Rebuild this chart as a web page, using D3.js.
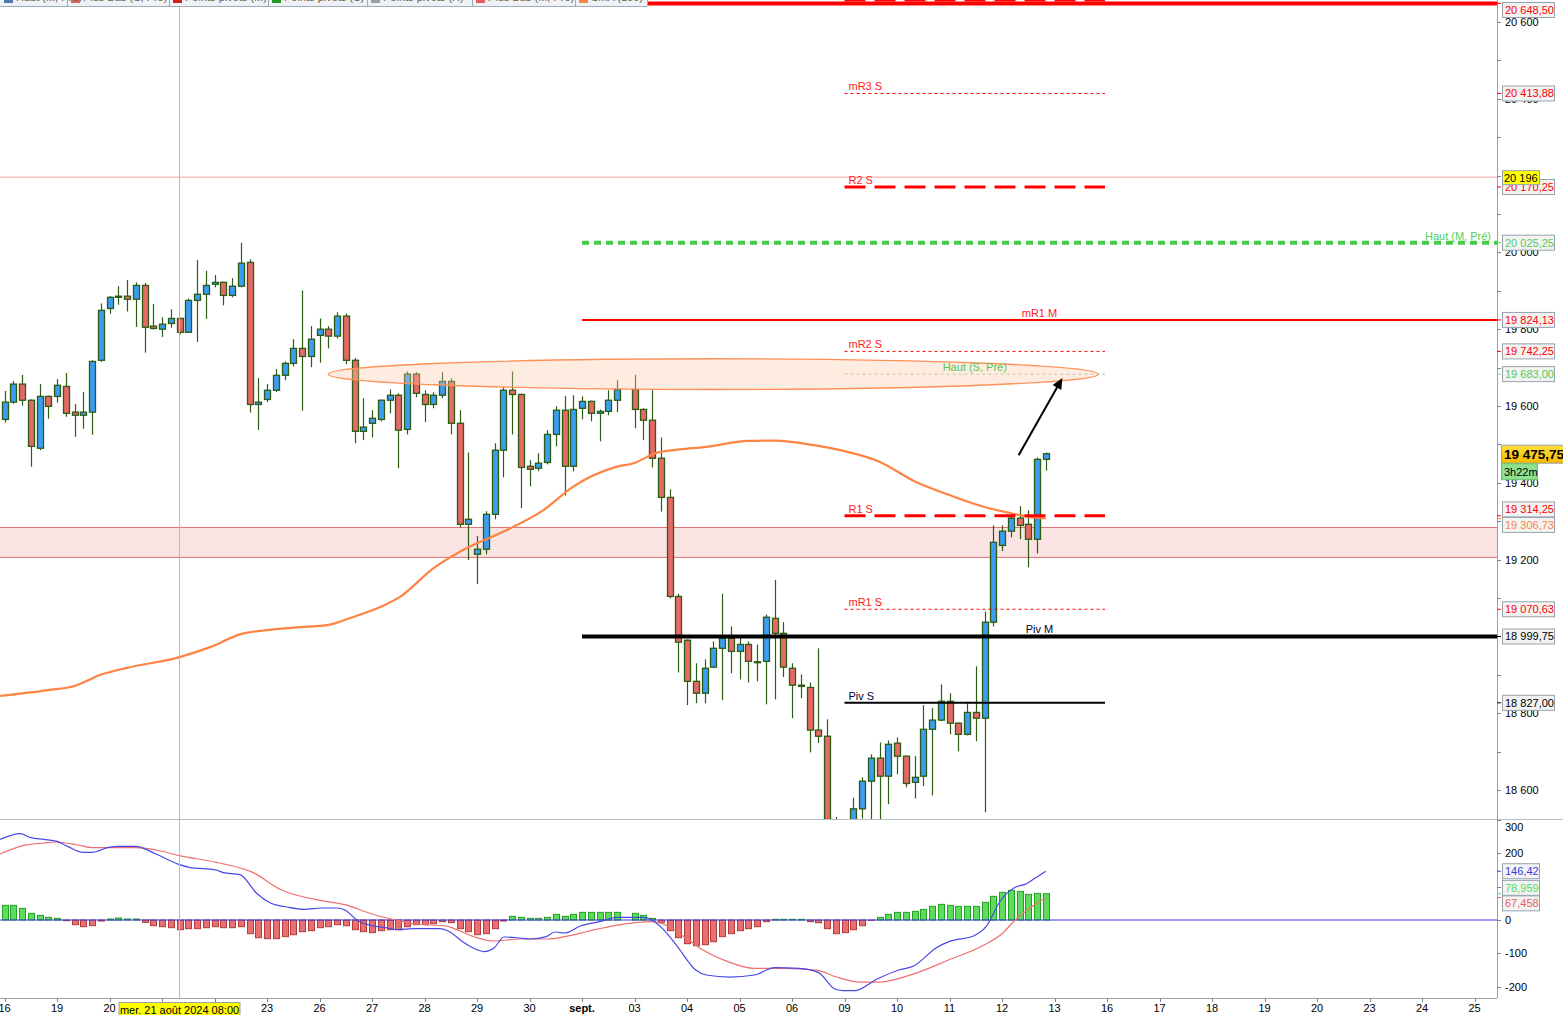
<!DOCTYPE html>
<html>
<head>
<meta charset="utf-8">
<script src="https://cdn.jsdelivr.net/npm/d3@7"></script>
<style>
  body { margin: 0; background: #fff; }
  svg { display: block; font-family: "Liberation Sans", Arial, sans-serif; }
</style>
</head>
<body>
<div id="chart"></div>
<script>
// ---------- data (4h candles, slot index from 16 Aug) ----------
let opens = [19565,19610,19657,19615,19490,19625,19625,19651,19584,19576,19584,19719,19854,19883,19886,19878,19914,19808,19800,19815,
  19828,19792,19875,19891,19917,19922,19888,19912,19974,19604,19617,19641,19680,19711,19750,19729,19784,19800,19782,19834,
  19719,19534,19555,19565,19615,19628,19539,19683,19630,19604,19628,19664,19555,19292,19214,19227,19318,19485,19641,19630,
  19443,19438,19453,19526,19589,19443,19594,19612,19581,19586,19615,null,19643,19591,19563,19464,19362,19104,18990,18883,
  18852,18920,18969,18995,18961,18979,18932,18935,19047,19008,18917,18873,18867,18756,18740,18470,18455,18490,18551,18623,
  18683,18636,18722,18688,18620,18636,18758,18782,18831,18774,18745,18802,18787,19037,19237,19274,19308,19292,19253,19461]
let highs = [19639,19665,19681,19617,19657,19627,19670,19686,19605,19636,19719,19867,19886,19912,19928,19922,19920,19866,19831,19852,
  19830,19880,19980,19952,19941,19924,19933,20025,19982,19673,19657,19696,19716,19774,19901,19808,19828,19808,19844,19841,
  19725,19620,19589,19617,19643,19633,19690,19688,19641,19636,19688,19672,19589,19479,19261,19326,19503,19649,19690,19632,
  19459,19477,19537,19599,19626,19628,19625,19614,19591,19641,19667,null,19681,19594,19641,19518,19383,19111,18992,18930,
  18940,18987,19111,19026,19003,18987,18979,19057,19147,19037,18930,18901,18880,18969,18784,18530,18510,18580,18633,18693,
  18724,18729,18737,18690,18688,18821,18813,18875,18852,18776,18826,18922,19065,19289,19289,19321,19339,19328,19466,19479]
let lows = [19557,19606,19601,19442,19485,19567,19609,19572,19520,19541,19525,19715,19840,19864,19846,19806,19739,19799,19780,19804,
  19787,19790,19767,19827,19909,19862,19883,19909,19583,19538,19610,19636,19667,19703,19588,19701,19713,19750,19776,19709,
  19503,19511,19518,19560,19581,19438,19526,19623,19558,19594,19620,19526,19284,19199,19136,19214,19305,19414,19526,19334,
  19391,19430,19448,19495,19367,19430,19565,19560,19508,19576,19584,null,19542,19511,19440,19325,19099,18906,18821,18826,
  18826,18917,18834,18904,18888,18880,18883,18823,18836,18894,18787,18839,18698,18722,18440,18400,18420,18470,18526,18520,
  18520,18563,18641,18607,18578,18610,18586,18779,18745,18701,18742,18727,18542,19026,19222,19258,19253,19180,19216,19432]
let closes = [19610,19657,19615,19495,19625,19599,19654,19581,19576,19584,19716,19849,19883,19886,19878,19914,19805,19802,19813,19828,
  19792,19875,19891,19914,19922,19888,19912,19972,19604,19610,19641,19680,19711,19750,19729,19774,19800,19782,19834,19719,
  19534,19545,19568,19615,19628,19537,19683,19633,19604,19628,19664,19555,19292,19305,19227,19318,19485,19641,19630,19440,
  19435,19451,19526,19589,19443,19591,19612,19581,19586,19615,19643,null,19591,19563,19464,19362,19104,18985,18883,18852,
  18917,18969,18995,18961,18979,18935,18934,19050,19008,18920,18873,18870,18756,18740,18470,18455,18490,18551,18623,18683,
  18636,18719,18688,18617,18633,18758,18782,18831,18774,18745,18802,18787,19037,19245,19274,19308,19289,19253,19461,19475.75]

// SMA (100) read at some slots: [slot, value]
let smaPoints = [[-0.5,18845],[5,18860],[8,18871],[11,18900],[14,18918],[20,18946],[23.5,18972],[27,19006],[30.3,19017],[33.8,19024],
  [37,19030],[39.5,19048],[43,19077],[45.2,19103],[49,19177],[52.4,19225],[57.4,19277],[61.6,19329],[65,19390],[70,19442],
  [71.9,19451],[74.5,19478],[77.2,19487],[80,19493],[85,19509],[88,19510],[92.5,19498],[95.5,19485],[100,19455],[104,19404],
  [108,19368],[112,19337],[114.8,19322],[117.5,19310],[119,19307]]

// MACD histogram, one value per slot
let macdHist = [44,44,35,20,14,8,5,-2,-14,-20,-17,-3,3,6,3,3,-7,-17,-20,-23,
  -29,-26,-26,-23,-20,-23,-23,-20,-41,-53,-56,-56,-50,-44,-35,-32,-23,-20,-14,-17,
  -29,-35,-38,-32,-29,-29,-20,-14,-14,-11,-5,-8,-26,-35,-44,-41,-26,-3,11,8,
  5,5,8,17,11,17,23,23,23,23,23,null,20,14,5,-7,-32,-53,-71,-77,
  -74,-65,-50,-41,-32,-26,-20,-5,2,2,2,2,-5,-8,-26,-41,-38,-29,-17,-1,
  8,17,23,23,26,32,41,47,44,41,41,41,53,71,83,89,86,77,80,78.959]

// MACD line and signal line: [slot, value]
let macdPoints = [[-0.5,242],[1.8,259],[3,247],[4.5,242],[6,236],[7.2,221],[9,203],[10,203],[11.9,218],[13,221],[15,221],[17.3,198],
  [20,166],[21.1,158],[24.2,150],[25,142],[26.9,136],[28.9,78],[30.4,51],[32.3,39],[34.3,32],[36.2,36],[38.1,36],[38.9,30],
  [40.4,-2],[42,-17],[43.5,-23],[45.1,-29],[46.6,-26],[49.7,-26],[50.9,-36],[52.4,-66],[54,-89],[54.9,-95],[55.9,-85],[57.1,-51],
  [58.9,-54],[60.1,-57],[61.9,-50],[62.9,-36],[64,-39],[65.8,-18],[68,-5],[69.9,8],[72.9,8],[74.3,-5],[75.4,-31],[77,-83],
  [79,-150],[80.2,-165],[82.9,-171],[85.7,-165],[88,-143],[90.8,-145],[93,-157],[94.9,-207],[95.9,-212],[97.1,-212],[99.8,-176],
  [102.2,-150],[103.9,-138],[106.5,-83],[108,-64],[110.8,-47],[112.2,-19],[113.8,57],[115.5,98],[116.8,109],[117.8,126],[119,146.42]]
let signalPoints = [[-0.5,198],[1.8,221],[4.5,231],[5.9,234],[8.4,225],[10,217],[15,217],[17.3,210],[20,193],[24.2,173],[26.9,156],
  [28.1,146],[31.6,91],[36.2,58],[38.9,46],[42,18],[44.7,0],[47,-12],[50.5,-18],[51.6,-28],[54,-53],[55.9,-63],[58.9,-57],
  [62.1,-57],[64,-50],[66.8,-33],[69.9,-16],[73.9,-5],[75.1,-10],[77.5,-47],[79.4,-83],[82.6,-124],[85.7,-145],[88.9,-145],
  [92.8,-150],[95.1,-171],[97.8,-186],[100,-186],[104.1,-160],[107.7,-122],[112,-74],[114,-41],[115.5,0],[119,67.458]]

// pivot levels
let levelNames = ["R3 S", "R1 M", "mR3 S", "R2 S", "Haut (M, Pré)", "mR1 M", "mR2 S", "Haut (S, Pré)", "R1 S", "mR1 S", "Piv M", "Piv S"]
let levelValues = [20657.5, 20648.5, 20413.88, 20170.25, 20025.25, 19824.13, 19742.25, 19683.00, 19314.25, 19070.63, 18999.75, 18827.00]

// support zone and highlighted area round the weekly high
let zoneBounds = [19207, 19285]
let ellipseSlots = [37, 125]
let ellipsePrices = [19643, 19723]
let arrowSlots = [115.9, 120.9]
let arrowPrices = [19472, 19673]

// crosshair
let crossSlot = 20
let crossPrice = 20196
let crossDate = "mer. 21 août 2024 08:00"
let lastPrice = 19475.75
let timeLeft = "3h22m"
let smaLast = 19306.73

// x axis: one label per day, 6 slots per day
let dayLabels = ["16","19","20","21","22","23","26","27","28","29","30","sept.","03","04","05","06","09","10","11","12","13","16","17","18","19","20","23","24","25"]
let priceTicks = [18600, 18800, 19000, 19200, 19400, 19600, 19800, 20000, 20200, 20400, 20600]
let macdTicks = [-200, -100, 0, 100, 200, 300]
let legendNames = ["Haut (M, Pré)", "Plus Bas (S, Pré)", "Points pivots (M)", "Points pivots (S)", "Points pivots (H)", "Plus Bas (M, Pré)", "SMA (100)"]

// ---------- layout ----------
let width = 1563, height = 1015
let axisX = 1497
let priceBottom = 819
let macdTop = 820, macdBottom = 998

let fr = d3.formatLocale({decimal: ",", thousands: "\u00a0", grouping: [3], currency: ["", ""], minus: "-"})
let fmtPrice = fr.format(",.2f"), fmtTick = fr.format(",.0f"), fmtMacd = fr.format(".5r")

let svg = d3.select("#chart").append("svg")
    .attr("width", width)
    .attr("height", height)

let defs = svg.append("defs")
defs.append("clipPath").attr("id", "clip-price")
    .append("rect").attr("x", 0).attr("y", 0).attr("width", axisX).attr("height", priceBottom)
defs.append("clipPath").attr("id", "clip-macd")
    .append("rect").attr("x", 0).attr("y", macdTop).attr("width", axisX).attr("height", macdBottom - macdTop)

let gradYellow = defs.append("linearGradient").attr("id", "grad-yellow").attr("x1", 0).attr("y1", 0).attr("x2", 0).attr("y2", 1)
gradYellow.append("stop").attr("offset", "0%").attr("stop-color", "#ffe040")
gradYellow.append("stop").attr("offset", "100%").attr("stop-color", "#f5b800")

// scales
let x = d3.scaleLinear().domain([0, 168]).range([4.5, 4.5 + 8.75 * 168])
let y = d3.scaleLinear().domain([18600, 20600]).range([790, 22])
let ym = d3.scaleLinear().domain([-200, 300]).range([986.7, 820])

let price = svg.append("g").attr("clip-path", "url(#clip-price)")
let macd = svg.append("g").attr("clip-path", "url(#clip-macd)")

// support zone
price.append("rect")
    .attr("x", 0).attr("width", axisX)
    .attr("y", y(zoneBounds[1])).attr("height", y(zoneBounds[0]) - y(zoneBounds[1]))
    .style("fill", "#f9e3e3")
price.selectAll(".zone-edge").data(zoneBounds).join("line")
    .attr("x1", 0).attr("x2", axisX)
    .attr("y1", d => y(d) + 0.5).attr("y2", d => y(d) + 0.5)
    .style("stroke", "#e07070").style("stroke-width", 1)

// crosshair lines
price.append("line")
    .attr("x1", 0).attr("x2", axisX)
    .attr("y1", y(crossPrice)).attr("y2", y(crossPrice))
    .style("stroke", "#f5a0a0").style("stroke-width", 1)

// pivot level styles
let weekly = [96, 126]
let levelStyle = {
    "R3 S":          {color: "#ff0000", w: 3, dash: "21,9", span: "S", anchor: "start"},
    "R1 M":          {color: "#ff0000", w: 4, dash: null, span: "M", anchor: "middle"},
    "mR3 S":         {color: "#ff0000", w: 1, dash: "3,3", span: "S", anchor: "start"},
    "R2 S":          {color: "#ff0000", w: 3, dash: "21,9", span: "S", anchor: "start"},
    "Haut (M, Pré)": {color: "#44cc44", w: 4, dash: "7,5", span: "M", anchor: "end", text: "#55cc55"},
    "mR1 M":         {color: "#ff0000", w: 2, dash: null, span: "M", anchor: "middle"},
    "mR2 S":         {color: "#ff0000", w: 1, dash: "3,3", span: "S", anchor: "start"},
    "Haut (S, Pré)": {color: "#a0c8a0", w: 1, dash: "3,3", span: "S", anchor: "middle", text: "#55c855"},
    "R1 S":          {color: "#ff0000", w: 3, dash: "21,9", span: "S", anchor: "start"},
    "mR1 S":         {color: "#ff0000", w: 1, dash: "3,3", span: "S", anchor: "start"},
    "Piv M":         {color: "#000000", w: 4, dash: null, span: "M", anchor: "middle", text: "#000033", label: "#000000"},
    "Piv S":         {color: "#000000", w: 2, dash: null, span: "S", anchor: "start", text: "#000033", label: "#000000"}
}
let levels = levelNames.map((n, i) => {
    let s = levelStyle[n]
    let x0 = s.span === "S" ? x(weekly[0]) : x(66)
    let x1 = s.span === "S" ? x(weekly[1]) - 2 : axisX
    return {name: n, value: levelValues[i], s: s, x0: x0, x1: x1}
})

// candles
let candles = d3.range(opens.length).filter(i => opens[i] != null)
    .map(i => ({i: i, o: opens[i], h: highs[i], l: lows[i], c: closes[i]}))

price.selectAll(".wick").data(candles).join("line")
    .attr("x1", d => Math.round(x(d.i)) + 0.5).attr("x2", d => Math.round(x(d.i)) + 0.5)
    .attr("y1", d => y(d.h)).attr("y2", d => y(d.l))
    .style("stroke", "#2b5c12").style("stroke-width", 1.2)

price.selectAll(".body").data(candles).join("rect")
    .attr("x", d => Math.round(x(d.i)) - 2.5)
    .attr("width", 6)
    .attr("y", d => y(Math.max(d.o, d.c)))
    .attr("height", d => Math.max(1, Math.abs(y(d.o) - y(d.c))))
    .style("fill", d => d.c >= d.o ? "#3a9cf2" : "#e86868")
    .style("stroke", "#2b5c12").style("stroke-width", 1.3)

// SMA
price.append("path")
    .datum(smaPoints)
    .attr("d", d3.line().x(d => x(d[0])).y(d => y(d[1])).curve(d3.curveMonotoneX))
    .style("fill", "none").style("stroke", "#ff8443").style("stroke-width", 2.2)

// pivot lines
price.selectAll(".level").data(levels).join("line")
    .attr("x1", d => d.x0).attr("x2", d => d.x1)
    .attr("y1", d => y(d.value)).attr("y2", d => y(d.value))
    .style("stroke", d => d.s.color).style("stroke-width", d => d.s.w)
    .style("stroke-dasharray", d => d.s.dash)

// ellipse and arrow
let ecx = (x(ellipseSlots[0]) + x(ellipseSlots[1])) / 2
let ecy = (y(ellipsePrices[0]) + y(ellipsePrices[1])) / 2
price.append("ellipse")
    .attr("cx", ecx).attr("cy", ecy)
    .attr("rx", (x(ellipseSlots[1]) - x(ellipseSlots[0])) / 2)
    .attr("ry", (y(ellipsePrices[0]) - y(ellipsePrices[1])) / 2)
    .style("fill", "#ffc9a8").style("fill-opacity", 0.35)
    .style("stroke", "#ff9058").style("stroke-width", 1.3)

let ax0 = x(arrowSlots[0]), ay0 = y(arrowPrices[0]), ax1 = x(arrowSlots[1]), ay1 = y(arrowPrices[1])
let ang = Math.atan2(ay1 - ay0, ax1 - ax0)
price.append("line")
    .attr("x1", ax0).attr("y1", ay0)
    .attr("x2", ax1 - 8 * Math.cos(ang)).attr("y2", ay1 - 8 * Math.sin(ang))
    .style("stroke", "#000").style("stroke-width", 2)
let head = [[ax1, ay1],
    [ax1 - 11 * Math.cos(ang) + 5 * Math.sin(ang), ay1 - 11 * Math.sin(ang) - 5 * Math.cos(ang)],
    [ax1 - 11 * Math.cos(ang) - 5 * Math.sin(ang), ay1 - 11 * Math.sin(ang) + 5 * Math.cos(ang)]]
price.append("path").attr("d", d3.line()(head) + "Z").style("fill", "#000")

// names of the levels (the ones above the top edge stay hidden, as in the chart)
price.selectAll(".level-name").data(levels.filter(d => y(d.value) > 12)).join("text")
    .attr("x", d => d.s.anchor === "start" ? d.x0 + 4 : d.s.anchor === "end" ? d.x1 - 6 : (d.x0 + d.x1) / 2)
    .attr("y", d => y(d.value) - 3)
    .attr("text-anchor", d => d.s.anchor)
    .style("font-size", "11px")
    .style("fill", d => d.s.text || "#ff2020")
    .text(d => d.name)

// ---------- MACD panel ----------
let hist = d3.range(macdHist.length).filter(i => macdHist[i] != null).map(i => ({i: i, v: macdHist[i]}))
macd.selectAll(".hist").data(hist).join("rect")
    .attr("x", d => Math.round(x(d.i)) - 2.5)
    .attr("width", 6)
    .attr("y", d => ym(Math.max(0, d.v)))
    .attr("height", d => Math.abs(ym(d.v) - ym(0)))
    .style("fill", d => d.v >= 0 ? "#5ddc5d" : "#e87070")
    .style("stroke", d => d.v >= 0 ? "#22a022" : "#b33a3a").style("stroke-width", 1)

macd.append("line")
    .attr("x1", 0).attr("x2", axisX)
    .attr("y1", ym(0)).attr("y2", ym(0))
    .style("stroke", "#3838d8").style("stroke-width", 1.2)

macd.append("path").datum(signalPoints)
    .attr("d", d3.line().x(d => x(d[0])).y(d => ym(d[1])).curve(d3.curveMonotoneX))
    .style("fill", "none").style("stroke", "#ee7070").style("stroke-width", 1.2)
macd.append("path").datum(macdPoints)
    .attr("d", d3.line().x(d => x(d[0])).y(d => ym(d[1])).curve(d3.curveMonotoneX))
    .style("fill", "none").style("stroke", "#4848e8").style("stroke-width", 1.2)

// vertical crosshair through both panels
svg.append("line")
    .attr("x1", x(crossSlot)).attr("x2", x(crossSlot))
    .attr("y1", 0).attr("y2", macdBottom)
    .style("stroke", "#f5a0a0").style("stroke-width", 1)

// ---------- frames and axes ----------
svg.append("line").attr("x1", 0).attr("x2", width).attr("y1", priceBottom + 0.5).attr("y2", priceBottom + 0.5)
    .style("stroke", "#b4bcc4")
svg.append("line").attr("x1", axisX + 0.5).attr("x2", axisX + 0.5).attr("y1", 0).attr("y2", macdBottom)
    .style("stroke", "#98a2ac")
svg.append("line").attr("x1", 0).attr("x2", axisX).attr("y1", macdBottom + 0.5).attr("y2", macdBottom + 0.5)
    .style("stroke", "#98a2ac")

// price axis ticks
let minorTicks = d3.range(18600, 20701, 100)
svg.selectAll(".ptick").data(minorTicks).join("line")
    .attr("x1", axisX).attr("x2", axisX + 4)
    .attr("y1", d => Math.round(y(d)) + 0.5).attr("y2", d => Math.round(y(d)) + 0.5)
    .style("stroke", "#7a8590")
svg.selectAll(".ptext").data(priceTicks).join("text")
    .attr("x", axisX + 8).attr("y", d => y(d) + 4)
    .style("font-size", "11px").style("fill", "#000")
    .text(d => fmtTick(d))

// macd axis
svg.selectAll(".mtick").data(macdTicks).join("line")
    .attr("x1", axisX).attr("x2", axisX + 4)
    .attr("y1", d => Math.round(ym(d)) + 0.5).attr("y2", d => Math.round(ym(d)) + 0.5)
    .style("stroke", "#7a8590")
svg.selectAll(".mtext").data(macdTicks).join("text")
    .attr("x", axisX + 8).attr("y", d => Math.max(ym(d) + 4, macdTop + 11))
    .style("font-size", "11px").style("fill", "#000")
    .text(d => fmtTick(d))

// time axis
svg.selectAll(".ttick").data(dayLabels).join("line")
    .attr("x1", (d, i) => Math.round(x(i * 6)) + 0.5).attr("x2", (d, i) => Math.round(x(i * 6)) + 0.5)
    .attr("y1", macdBottom).attr("y2", macdBottom + 4)
    .style("stroke", "#7a8590")
svg.selectAll(".ttext").data(dayLabels).join("text")
    .attr("x", (d, i) => x(i * 6)).attr("y", 1012)
    .attr("text-anchor", "middle")
    .style("font-size", "11px")
    .style("font-weight", d => d === "sept." ? "bold" : "normal")
    .text(d => d)

// ---------- right-hand value labels ----------
function spread(items, gap) {
    items.sort((a, b) => a.ly - b.ly)
    for (let k = 0; k < 30; k++) {
        for (let i = 1; i < items.length; i++) {
            let d = items[i].ly - items[i - 1].ly
            if (d < gap) {
                items[i].ly += (gap - d) / 2
                items[i - 1].ly -= (gap - d) / 2
            }
        }
        if (items.length && items[0].ly < 10) items[0].ly = 10
    }
}

let priceLabels = levels.filter(d => y(d.value) >= 0)
    .map(d => ({ty: y(d.value), ly: y(d.value), text: fmtPrice(d.value), color: d.s.label || d.s.text || "#ff0000", tick: d.s.color}))
priceLabels.push({ty: y(smaLast), ly: y(smaLast), text: fmtPrice(smaLast), color: "#ff8443", tick: "#ff8443"})
spread(priceLabels, 15.5)

let macdLabels = [
    {v: macdPoints[macdPoints.length - 1][1], color: "#3a3ae0"},
    {v: macdHist[macdHist.length - 1], color: "#55dd55"},
    {v: signalPoints[signalPoints.length - 1][1], color: "#e86060"}
].map(d => ({ty: ym(d.v), ly: ym(d.v), text: fmtMacd(d.v), color: d.color, tick: d.color}))
spread(macdLabels, 15.5)

let allLabels = priceLabels.concat(macdLabels)
svg.selectAll(".vtick").data(allLabels).join("line")
    .attr("x1", axisX).attr("x2", axisX + 4)
    .attr("y1", d => d.ty).attr("y2", d => d.ty)
    .style("stroke", d => d.tick).style("stroke-width", 1)
svg.selectAll(".vbox").data(allLabels).join("rect")
    .attr("x", axisX + 5.5).attr("y", d => d.ly - 7.5)
    .attr("width", d => d.text.length > 6 ? 52 : 37).attr("height", 15)
    .style("fill", "#f3f3f3").style("stroke", "#98a2ac")
svg.selectAll(".vtext").data(allLabels).join("text")
    .attr("x", axisX + 8).attr("y", d => d.ly + 4)
    .style("font-size", "11px").style("fill", d => d.color)
    .text(d => d.text)

// crosshair price label
svg.append("rect")
    .attr("x", axisX + 5.5).attr("y", y(crossPrice) - 6.5).attr("width", 37).attr("height", 14)
    .style("fill", "#ffff00").style("stroke", "#98a2ac")
svg.append("text")
    .attr("x", axisX + 7).attr("y", y(crossPrice) + 4.5)
    .style("font-size", "11px").style("fill", "#000")
    .text(fmtTick(crossPrice))

// last price label and time remaining
svg.append("rect")
    .attr("x", axisX + 4.5).attr("y", y(lastPrice) - 8.5).attr("width", 70).attr("height", 18)
    .style("fill", "url(#grad-yellow)").style("stroke", "#98a2ac")
svg.append("text")
    .attr("x", axisX + 7).attr("y", y(lastPrice) + 5.5)
    .style("font-size", "13.5px").style("font-weight", "bold").style("fill", "#000")
    .text(fmtPrice(lastPrice))
svg.append("rect")
    .attr("x", axisX + 4.5).attr("y", y(lastPrice) + 10).attr("width", 36).attr("height", 16)
    .style("fill", "#8fe08f").style("stroke", "#6cc06c")
svg.append("text")
    .attr("x", axisX + 7).attr("y", y(lastPrice) + 22)
    .style("font-size", "11px").style("fill", "#000")
    .text(timeLeft)

// crosshair date label
let dateBox = svg.append("g").attr("transform", "translate(" + x(crossSlot) + ",0)")
dateBox.append("rect")
    .attr("x", -60.5).attr("y", 1002.5).attr("width", 121).attr("height", 15)
    .style("fill", "#ffff00").style("stroke", "#98a2ac")
dateBox.append("text")
    .attr("x", 0).attr("y", 1014)
    .attr("text-anchor", "middle")
    .style("font-size", "11px").style("fill", "#000")
    .text(crossDate)

// ---------- legend strip cut off at the top ----------
let legendEdges = [0, 67, 169, 268, 367, 472, 575, 647]
let legendSwatch = ["#5577aa", "#e06060", "#cc2222", "#229922", "#9aa0a8", "#e06060", "#ff8443"]
let legend = svg.append("g")
legend.append("rect").attr("x", 0).attr("y", 0).attr("width", legendEdges[legendEdges.length - 1]).attr("height", 6)
    .style("fill", "#eef1f5")
legend.append("line").attr("x1", 0).attr("x2", legendEdges[legendEdges.length - 1]).attr("y1", 6.5).attr("y2", 6.5)
    .style("stroke", "#a0aab4")
legend.selectAll(".lsep").data(legendEdges.slice(1)).join("line")
    .attr("x1", d => d + 0.5).attr("x2", d => d + 0.5).attr("y1", 0).attr("y2", 6)
    .style("stroke", "#a0aab4")
legend.selectAll(".lsw").data(legendNames).join("rect")
    .attr("x", (d, i) => legendEdges[i] + 4).attr("y", 0).attr("width", 9).attr("height", 3)
    .style("fill", (d, i) => legendSwatch[i])
legend.selectAll(".ltxt").data(legendNames).join("text")
    .attr("x", (d, i) => legendEdges[i] + 16).attr("y", 1)
    .style("font-size", "11px").style("fill", "#6a6040")
    .text(d => d)
</script>
</body>
</html>
